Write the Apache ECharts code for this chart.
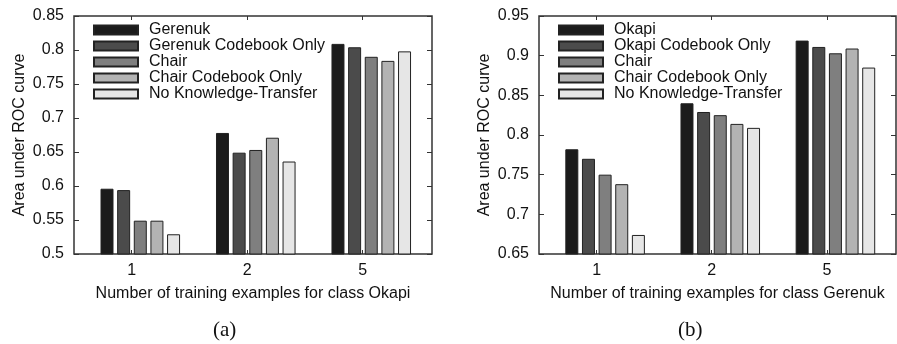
<!DOCTYPE html>
<html><head><meta charset="utf-8">
<script src="https://cdn.jsdelivr.net/npm/echarts@6/dist/echarts.min.js"></script>
<style>html,body{margin:0;padding:0;background:#fff}#c{width:897px;height:344px}</style>
</head><body><div id="c"></div>
<script>
// ---- data ----
const xLabels = ['1', '2', '5'];
const namesA = ['Gerenuk', 'Gerenuk Codebook Only', 'Chair', 'Chair Codebook Only', 'No Knowledge-Transfer'];
const namesB = ['Okapi', 'Okapi Codebook Only', 'Chair', 'Chair Codebook Only', 'No Knowledge-Transfer'];
const a_gerenuk      = [0.596, 0.678, 0.809];
const a_gerenukCB    = [0.594, 0.649, 0.804];
const a_chair        = [0.549, 0.653, 0.790];
const a_chairCB      = [0.549, 0.671, 0.784];
const a_noTransfer   = [0.529, 0.636, 0.798];
const b_okapi        = [0.782, 0.840, 0.919];
const b_okapiCB      = [0.770, 0.829, 0.911];
const b_chair        = [0.750, 0.825, 0.903];
const b_chairCB      = [0.738, 0.814, 0.909];
const b_noTransfer   = [0.674, 0.809, 0.885];
const xTitleA = 'Number of training examples for class Okapi';
const xTitleB = 'Number of training examples for class Gerenuk';
const yTitle = 'Area under ROC curve';

// ---- style ----
const colors = ['#1b1b1b', '#4b4b4b', '#7f7f7f', '#b3b3b3', '#e6e6e6'];
const FONT = 'Liberation Sans';
const BAR_SHIFT = 0.074; // cluster offset relative to the tick (layout)
const tickPos = xLabels.map((_, i) => i);

const chart = echarts.init(document.getElementById('c'), null, {renderer: 'canvas'});

function xAxes(gi) {
  const common = {
    type: 'value', gridIndex: gi, min: -0.5, max: 2.6,
    splitLine: {show: false}, axisLine: {show: false, onZero: false},
  };
  return [
    Object.assign({}, common, {
      position: 'bottom',
      name: gi === 0 ? xTitleA : xTitleB,
      nameLocation: 'middle', nameGap: 32,
      nameTextStyle: {fontFamily: FONT, fontSize: 16, color: '#111'},
      axisTick: {show: true, inside: true, length: 4, customValues: tickPos, lineStyle: {color: '#333'}},
      axisLabel: {show: true, customValues: tickPos, margin: 9, fontFamily: FONT, fontSize: 16, color: '#111',
        formatter: v => xLabels[Math.round(v)]}
    }),
    Object.assign({}, common, {
      position: 'top',
      axisTick: {show: true, inside: true, length: 4, customValues: tickPos, lineStyle: {color: '#333'}},
      axisLabel: {show: false}
    })
  ];
}
function yAxes(gi, min, max) {
  const common = {
    type: 'value', gridIndex: gi, min: min, max: max, interval: 0.05,
    splitLine: {show: false}, axisLine: {show: false, onZero: false},
    axisTick: {show: true, inside: true, length: 5, lineStyle: {color: '#333'}}
  };
  return [
    Object.assign({}, common, {
      position: 'left', name: yTitle, nameLocation: 'middle', nameGap: 46,
      nameTextStyle: {fontFamily: FONT, fontSize: 16, color: '#111'},
      axisLabel: {margin: 10, fontFamily: FONT, fontSize: 16, color: '#111'}
    }),
    Object.assign({}, common, {position: 'right', axisLabel: {show: false}})
  ];
}
function series(gi, names, arrs) {
  return arrs.map((arr, k) => ({
    type: 'bar', name: names[k], xAxisIndex: gi * 2, yAxisIndex: gi * 2,
    barWidth: 13, barGap: '28%',
    itemStyle: {color: colors[k], borderColor: '#222', borderWidth: 1},
    data: arr.map((v, i) => [tickPos[i] + BAR_SHIFT, v]),
    emphasis: {disabled: true}, animation: false
  }));
}
const legendCommon = {
  orient: 'vertical', top: 22, padding: 0, icon: 'rect', itemWidth: 44, itemHeight: 9, itemGap: 0,
  textStyle: {fontFamily: FONT, fontSize: 16, color: '#111', lineHeight: 16, padding: [0, 0, 0, 6]},
  selectedMode: false
};
chart.setOption({
  animation: false,
  grid: [
    {left: 74, top: 16, width: 358, height: 238, show: true, borderColor: '#333', borderWidth: 1.5, backgroundColor: 'transparent'},
    {left: 539, top: 16, width: 357, height: 238, show: true, borderColor: '#333', borderWidth: 1.5, backgroundColor: 'transparent'}
  ],
  legend: [
    Object.assign({}, legendCommon, {left: 93, data: namesA.map(n => ({name: n}))}),
    Object.assign({}, legendCommon, {left: 558, data: namesB.map(n => ({name: n}))})
  ],
  xAxis: [...xAxes(0), ...xAxes(1)],
  yAxis: [...yAxes(0, 0.5, 0.85), ...yAxes(1, 0.65, 0.95)],
  series: [
    ...series(0, namesA, [a_gerenuk, a_gerenukCB, a_chair, a_chairCB, a_noTransfer]),
    ...series(1, namesB, [b_okapi, b_okapiCB, b_chair, b_chairCB, b_noTransfer])
  ],
  graphic: [
    {type: 'text', left: 213, top: 320, style: {text: '(a)', font: '21px "Liberation Serif"', fill: '#111'}},
    {type: 'text', left: 678, top: 320, style: {text: '(b)', font: '21px "Liberation Serif"', fill: '#111'}}
  ]
});
</script></body></html>
